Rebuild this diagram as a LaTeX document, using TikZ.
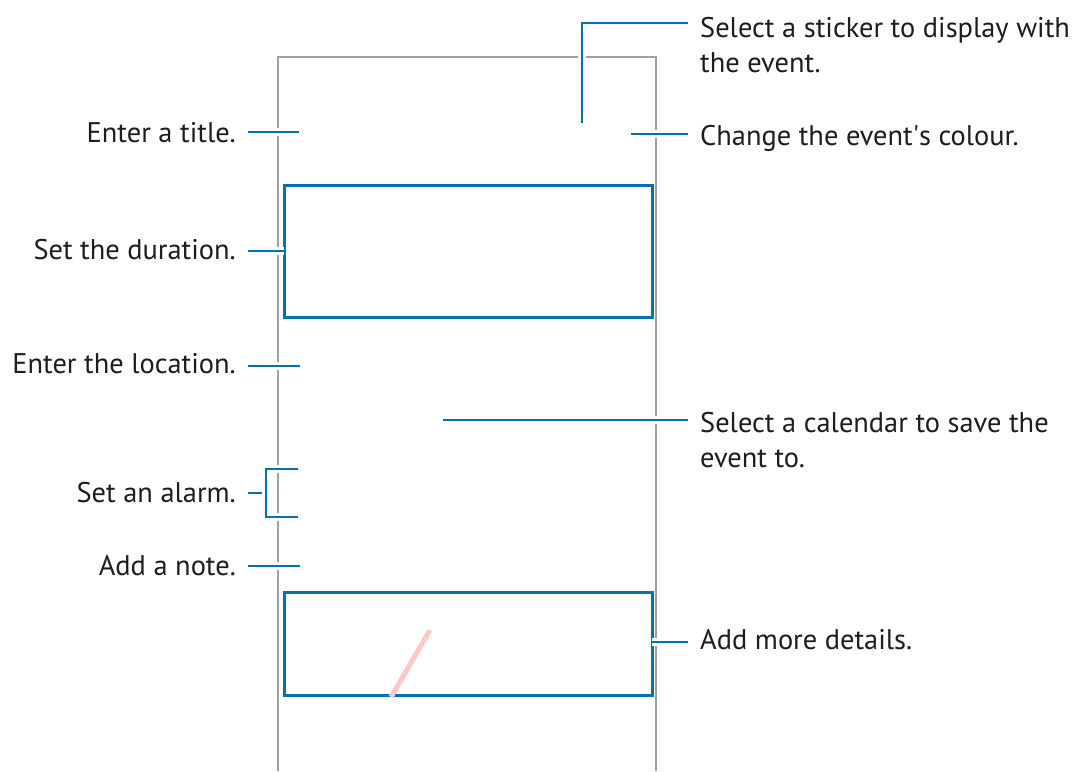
\documentclass[tikz,border=0pt]{standalone}
\usepackage{fontspec}
\setmainfont{PT Sans}
\usepackage{xcolor}
\usetikzlibrary{calc}

\definecolor{callblue}{RGB}{0,114,178}
\definecolor{framegray}{RGB}{160,160,160}
\definecolor{labtext}{RGB}{30,28,28}
\definecolor{penpink}{RGB}{255,200,200}

\begin{document}
\begin{tikzpicture}[x=1pt, y=-1pt]
\tikzset{
  lbl/.style   ={inner xsep=12pt, inner ysep=0pt, text=labtext,
                 font=\fontsize{28.4}{35}\selectfont, align=left},
  callout/.style={draw=callblue, line width=2.8pt,
                  preaction={draw=white, line width=8pt}},
  field/.style ={draw=callblue, line width=3pt},
  frame/.style ={draw=framegray, line width=1.5pt}
}
\useasboundingbox (0,0) rectangle (1081,771);
% screen outline, open at the bottom
\draw[frame] (278,771) -- (278,57) -- (656,57) -- (656,771);
% highlighted fields
\draw[field] (284,185) rectangle (652,317);
\draw[field] (284,592) rectangle (652,695);
\draw[draw=penpink, line width=5pt] (391,697) -- (430,630);

% end points inside the screen
\coordinate (t1) at (299,132);
\coordinate (d1) at (284,251);
\coordinate (l1) at (300,366);
\coordinate (a1) at (298,469);
\coordinate (a2) at (298,517);
\coordinate (am) at (266,493);
\coordinate (n1) at (300,566);
\coordinate (sk) at (582,123);
\coordinate (skc) at (582,23);
\coordinate (c1) at (631,134);
\coordinate (cl) at (443,420);
\coordinate (m1) at (652,642);

% labels on the left
\node[lbl, anchor=base east] (ttl) at (248,142) {Enter a title.};
\node[lbl, anchor=base east] (dur) at (248,259) {Set the duration.};
\node[lbl, anchor=base east] (loc) at (248,373) {Enter the location.};
\node[lbl, anchor=base east] (alm) at (248,502) {Set an alarm.};
\node[lbl, anchor=base east] (nte) at (248,575) {Add a note.};
% labels on the right (base is the last line)
\node[lbl, anchor=base west] (stk) at (688,72) {Select a sticker to display with\\the event.};
\node[lbl, anchor=base west] (col) at (688,145) {Change the event\textquotesingle s colour.};
\node[lbl, anchor=base west] (cal) at (688,467) {Select a calendar to save the\\event to.};
\node[lbl, anchor=base west] (det) at (688,649) {Add more details.};

% callout lines
\draw[callout] (ttl.east |- t1) -- (t1);
\draw[callout] (dur.east |- d1) -- (d1);
\draw[callout] (loc.east |- l1) -- (l1);
\draw[callout] (alm.east |- am) -- (am);
\draw[callout] (a1) -| (am) |- (a2);
\draw[callout] (nte.east |- n1) -- (n1);
\draw[callout] (skc -| stk.west) -- (skc) -- (sk);
\draw[callout] (col.west |- c1) -- (c1);
\draw[callout] (cal.west |- cl) -- (cl);
\draw[callout] (det.west |- m1) -- (m1);
\end{tikzpicture}
\end{document}
